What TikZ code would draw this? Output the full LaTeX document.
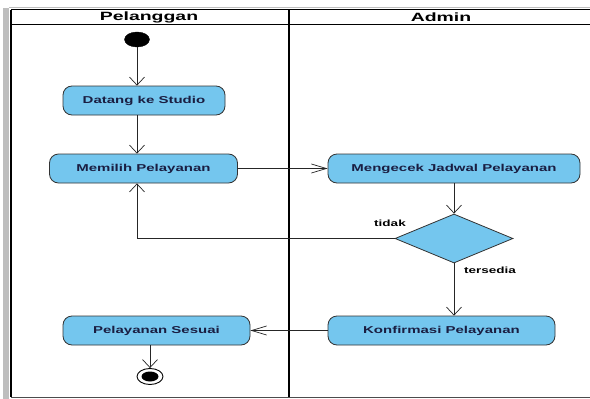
\documentclass[tikz,border=0pt]{standalone}
\usepackage{fontspec}
\usetikzlibrary{arrows.meta,shapes.geometric}
\newfontfamily\lblfont[FakeStretch=1.5]{Liberation Sans}
\newfontfamily\hdrfont[FakeStretch=1.62]{Liberation Sans}
\definecolor{actfill}{RGB}{116,198,238}
\definecolor{acttext}{RGB}{26,30,66}
\definecolor{shadowgray}{RGB}{190,190,190}
\tikzset{
  act/.style={draw=black!80, line width=0.8pt, fill=actfill, rounded corners=9pt,
    minimum height=29pt, inner sep=0pt, text=acttext,
    font=\lblfont\bfseries\fontsize{10}{12}\selectfont},
  hdr/.style={font=\hdrfont\bfseries\fontsize{12}{14}\selectfont, text=black},
  guard/.style={font=\lblfont\bfseries\fontsize{9}{11}\selectfont, text=black},
  flow/.style={draw=black!85, line width=0.7pt},
  varrow/.style={flow, -{Straight Barb[length=8pt,width=15pt,line width=0.7pt]}},
  harrow/.style={flow, -{Straight Barb[length=15pt,width=9pt,line width=0.7pt]}},
  lane/.style={draw=black, line width=1.6pt},
}
\begin{document}
\begin{tikzpicture}[x=1pt,y=-1pt]
\useasboundingbox (0,0) rectangle (590,399);
\fill[white] (0,0) rectangle (590,399);
% swimlane frame
\fill[shadowgray] (3,8) rectangle (9,399);
\draw[shadowgray, line width=1.2pt] (9,7.5) -- (590,7.5);
\draw[lane] (11,9.5) -- (590,9.5);
\draw[lane] (11,9.5) -- (11,397);
\draw[black, line width=1.2pt] (11,24.5) -- (590,24.5);
\draw[black, line width=2.4pt] (289,9.5) -- (289,397);
\draw[black!70, line width=1pt] (11,397) -- (590,397);
\node[hdr] (hpel) at (149,17) {Pelanggan};
\node[hdr] (hadm) at (441,17) {Admin};
% nodes
\node[draw=black, fill=black, ellipse, minimum width=25pt, minimum height=15pt, inner sep=0pt] (start) at (137,39.5) {};
\node[act, minimum width=162pt] (datang) at (144,100.5) {Datang ke Studio};
\node[act, minimum width=188pt] (memilih) at (143.5,168.5) {Memilih Pelayanan};
\node[act, minimum width=252pt] (cek) at (454,168.5) {Mengecek Jadwal Pelayanan};
\node[draw=black!80, line width=0.8pt, fill=actfill, diamond, minimum width=118pt, minimum height=49pt, inner sep=0pt] (dec) at (454,238.5) {};
\node[act, minimum width=227pt] (konf) at (441.5,330.5) {Konfirmasi Pelayanan};
\node[act, minimum width=187pt] (sesuai) at (156.5,330.5) {Pelayanan Sesuai};
\node[draw=black, line width=0.9pt, fill=white, ellipse, minimum width=26pt, minimum height=16pt, inner sep=0pt] (final) at (150,376.5) {};
\node[fill=black, ellipse, minimum width=17pt, minimum height=10pt, inner sep=0pt] (finalin) at (final.center) {};
\coordinate (back) at (137,238.5);
% guards
\node[guard] (ltidak) at (390,223) {tidak};
\node[guard] (ltersedia) at (490,270) {tersedia};
% flows
\draw[varrow] (start.south) -- (start.south |- datang.north);
\draw[varrow] (start.south |- datang.south) -- (start.south |- memilih.north);
\draw[harrow] (memilih.east) -- (cek.west);
\draw[varrow] (dec.north |- cek.south) -- (dec.north);
\draw[varrow] (dec.west) -- (back) -- (back |- memilih.south);
\draw[varrow] (dec.south) -- (dec.south |- konf.north);
\draw[harrow] (konf.west) -- (sesuai.east);
\draw[varrow] (final.north |- sesuai.south) -- (final.north);
\end{tikzpicture}
\end{document}
